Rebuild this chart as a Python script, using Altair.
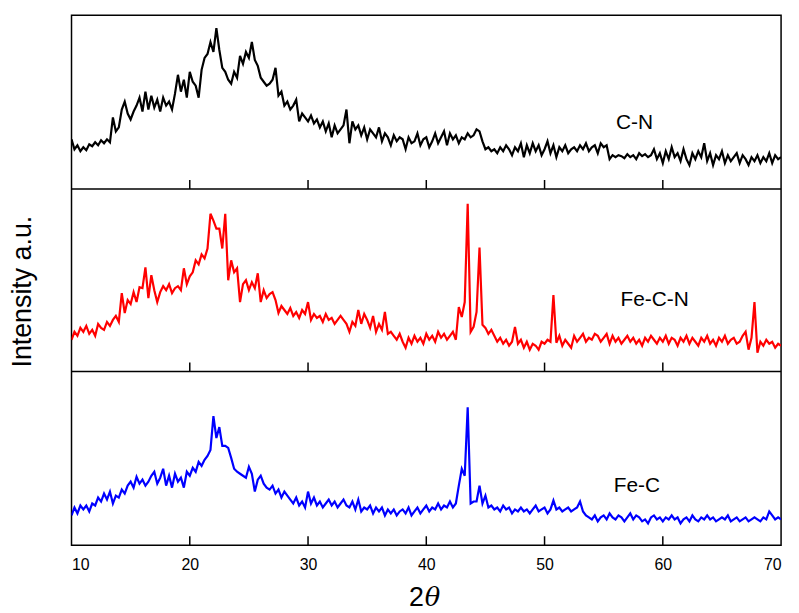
import altair as alt
import pandas as pd

# 2-theta grid: 10 .. 70 in 0.25 degree steps (4 values per degree row)
X_START = 10.0
X_STEP = 0.25

cn = [
    50, 40, 44, 38,   42, 39, 45, 43,   47, 44, 49, 46,   50, 47, 72, 58,
    62, 80, 88, 76,   70, 78, 84, 92,   78, 98, 80, 94,   82, 90, 78, 92,
    84, 88, 80, 96,   115, 98, 110, 92, 118, 108, 104, 92, 120, 132, 136, 148,
    138, 162, 140, 122, 118, 110, 106, 118, 112, 134, 126, 138, 132, 148, 130, 124,
    112, 108, 104, 106, 110, 122, 94, 98, 84, 88, 80, 84, 90, 68, 76, 72,
    68, 74, 66, 70,   62, 68, 58, 66,   52, 64, 56, 60,   64, 80, 46, 68,
    60, 64, 54, 62,   50, 60, 56, 52,   62, 48, 56, 52,   44, 54, 48, 52,
    50, 40, 52, 46,   48, 56, 44, 50,   52, 42, 48, 56,   46, 52, 58, 44,
    56, 50, 54, 46,   52, 50, 56, 52,   54, 60, 58, 48,   40, 42, 38, 40,
    36, 42, 38, 44,   40, 34, 42, 38,   46, 32, 44, 36,   46, 38, 44, 34,
    40, 48, 36, 44,   32, 42, 38, 44,   36, 40, 42, 38,   44, 40, 46, 38,
    42, 44, 36, 46,   42, 44, 30, 34,   32, 34, 33, 31,   35, 32, 34, 30,
    36, 33, 35, 32,   34, 40, 30, 36,   26, 38, 30, 42,   32, 36, 28, 40,
    30, 24, 36, 30,   38, 32, 46, 28,   36, 24, 34, 30,   38, 26, 34, 28,
    32, 36, 26, 34,   30, 24, 32, 28,   34, 26, 32, 28,   36, 26, 34, 30,
    32,
]

fecn = [
    32, 40, 36, 44,   40, 46, 38, 42,   36, 48, 44, 42,   50, 46, 52, 56,
    50, 79, 59, 72,   68, 80, 70, 85,   84, 105, 74, 97,  82, 70, 80, 86,
    82, 88, 79, 84,   86, 82, 104, 88,  96, 100, 112, 108, 118, 114, 124, 159,
    152, 144, 144, 124, 159, 92, 112, 100, 104, 70, 88, 92, 82, 90, 84, 99,
    70, 82, 74, 78,   80, 72, 59, 66,   62, 58, 64, 56,   60, 54, 62, 58,
    70, 52, 58, 54,   56, 50, 58, 52,   54, 48, 52, 56,   52, 48, 40, 50,
    46, 62, 48, 58,   52, 44, 56, 40,   48, 42, 60, 38,   40, 36, 32, 38,
    30, 24, 34, 28,   36, 30, 34, 28,   38, 32, 36, 30,   40, 34, 38, 32,
    36, 40, 32, 65,   55, 70, 169, 40,  45, 60, 125, 47,  44, 38, 42, 36,
    30, 34, 28, 32,   26, 30, 45, 28,   32, 24, 30, 22,   28, 26, 22, 30,
    28, 32, 30, 77,   29, 36, 26, 32,   28, 24, 36, 30,   34, 38, 30, 34,
    32, 38, 36, 30,   34, 38, 28, 36,   30, 34, 28, 32,   36, 30, 34, 28,
    32, 26, 34, 30,   36, 32, 28, 34,   30, 36, 28, 34,   32, 26, 34, 30,
    36, 28, 34, 30,   26, 34, 30, 36,   28, 32, 26, 34,   30, 36, 28, 32,
    34, 28, 30, 36,   40, 22, 34, 70,   19, 30, 26, 32,   28, 30, 24, 28,
    26,
]

fec = [
    30, 38, 32, 40,   36, 40, 34, 42,   40, 48, 44, 52,   46, 54, 42, 50,
    48, 56, 52, 60,   64, 58, 69, 62,   66, 60, 64, 70,   74, 62, 68, 77,
    60, 70, 58, 72,   64, 68, 58, 74,   70, 78, 74, 84,   80, 86, 90, 96,
    130, 108, 119, 100, 100, 98, 88, 77, 74, 72, 70, 68, 79, 72, 54, 66,
    70, 62, 58, 56,   60, 52, 56, 48,   54, 50, 46, 42,   48, 40, 44, 38,
    54, 42, 48, 40,   44, 38, 42, 46,   40, 44, 38, 42,   46, 40, 38, 44,
    36, 46, 34, 38,   36, 40, 32, 38,   34, 38, 30, 36,   32, 36, 30, 34,
    36, 32, 38, 30,   34, 38, 32, 36,   40, 34, 38, 36,   42, 36, 40, 38,
    44, 38, 42, 60,   77, 70, 139, 42,  44, 44, 60, 42,   50, 38, 40, 36,
    38, 34, 40, 36,   38, 32, 36, 34,   38, 34, 36, 32,   36, 40, 34, 36,
    38, 32, 36, 45,   36, 38, 34, 36,   38, 34, 36, 38,   44, 34, 30, 28,
    26, 30, 24, 28,   30, 26, 32, 28,   26, 30, 28, 24,   28, 32, 26, 30,
    28, 24, 26, 22,   28, 30, 26, 28,   24, 28, 26, 30,   26, 28, 22, 26,
    28, 24, 30, 26,   24, 28, 26, 30,   26, 28, 24, 26,   28, 26, 30, 24,
    26, 28, 24, 26,   28, 24, 26, 28,   26, 24, 28, 26,   34, 30, 26, 28,
    26,
]

series_names = ["C-N", "Fe-C-N", "Fe-C"]
series_values = [cn, fecn, fec]
series_colors = ["#000000", "#ff0000", "#0000ff"]
# stacking offsets (panel baselines, arbitrary intensity units)
series_offsets = [359, 175, 0]
panel_bases = [0, 175, 359]
y_top = 534

label_x = [57.6, 59.3, 57.8]
label_y = [425, 247, 60]

x_ticks = [10, 20, 30, 40, 50, 60, 70]
inner_ticks = [20, 30, 40, 50, 60]

rows = []
for name, vals, off in zip(series_names, series_values, series_offsets):
    for i, v in enumerate(vals):
        rows.append({"x": X_START + X_STEP * i, "y": v + off, "series": name})
df = pd.DataFrame(rows)

W, H = 715, 534

xscale = alt.Scale(domain=[10, 70], nice=False, zero=False)
yscale = alt.Scale(domain=[0, y_top], nice=False, zero=False)

color = alt.Color("series:N", scale=alt.Scale(domain=series_names, range=series_colors), legend=None)

lines = alt.Chart(df).mark_line(strokeWidth=2.2, clip=True).encode(
    x=alt.X("x:Q", scale=xscale,
            axis=alt.Axis(values=x_ticks, ticks=False, domain=False, grid=False,
                          labelFontSize=16, labelFont="Liberation Sans", labelColor="black",
                          labelPadding=11, title=None, format="d")),
    y=alt.Y("y:Q", scale=yscale,
            axis=alt.Axis(labels=False, ticks=False, domain=False, grid=False,
                          title="Intensity a.u.", titleFont="Liberation Sans",
                          titleFontSize=27, titleFontWeight="normal", titleColor="black",
                          titleX=-35, titleY=278)),
    color=color,
    detail="series:N",
    order="x:Q",
)

sep_df = pd.DataFrame({"y": panel_bases[1:]})
seps = alt.Chart(sep_df).mark_rule(color="black", strokeWidth=1.5).encode(y=alt.Y("y:Q", scale=yscale))

tick_rows = [{"x": t, "y": b, "y2": b + 9} for b in panel_bases for t in inner_ticks]
ticks = alt.Chart(pd.DataFrame(tick_rows)).mark_rule(color="black", strokeWidth=1.5).encode(
    x=alt.X("x:Q", scale=xscale), y=alt.Y("y:Q", scale=yscale), y2="y2:Q")

lab_df = pd.DataFrame({"x": label_x, "y": label_y, "t": series_names})
labels = alt.Chart(lab_df).mark_text(fontSize=21, font="Liberation Sans", color="black").encode(
    x=alt.X("x:Q", scale=xscale), y=alt.Y("y:Q", scale=yscale), text="t:N")

two = alt.Chart(pd.DataFrame({"t": ["2"]})).mark_text(
    fontSize=27, font="Liberation Sans", color="black", align="right", baseline="alphabetic"
).encode(x=alt.value(355), y=alt.value(595), text="t:N")
theta = alt.Chart(pd.DataFrame({"t": ["θ"]})).mark_text(
    fontSize=26, font="DejaVu Serif", fontStyle="italic", color="black", align="left", baseline="alphabetic"
).encode(x=alt.value(356), y=alt.value(595), text="t:N")

chart = alt.layer(lines, seps, ticks, labels, two, theta).properties(
    width=W, height=H,
    autosize=alt.AutoSizeParams(type="none"),
    padding={"left": 64, "top": 5, "right": 10, "bottom": 64},
).configure_view(stroke="black", strokeWidth=1.5)

chart.save("out.html", embed_options={"renderer": "svg", "actions": False})
